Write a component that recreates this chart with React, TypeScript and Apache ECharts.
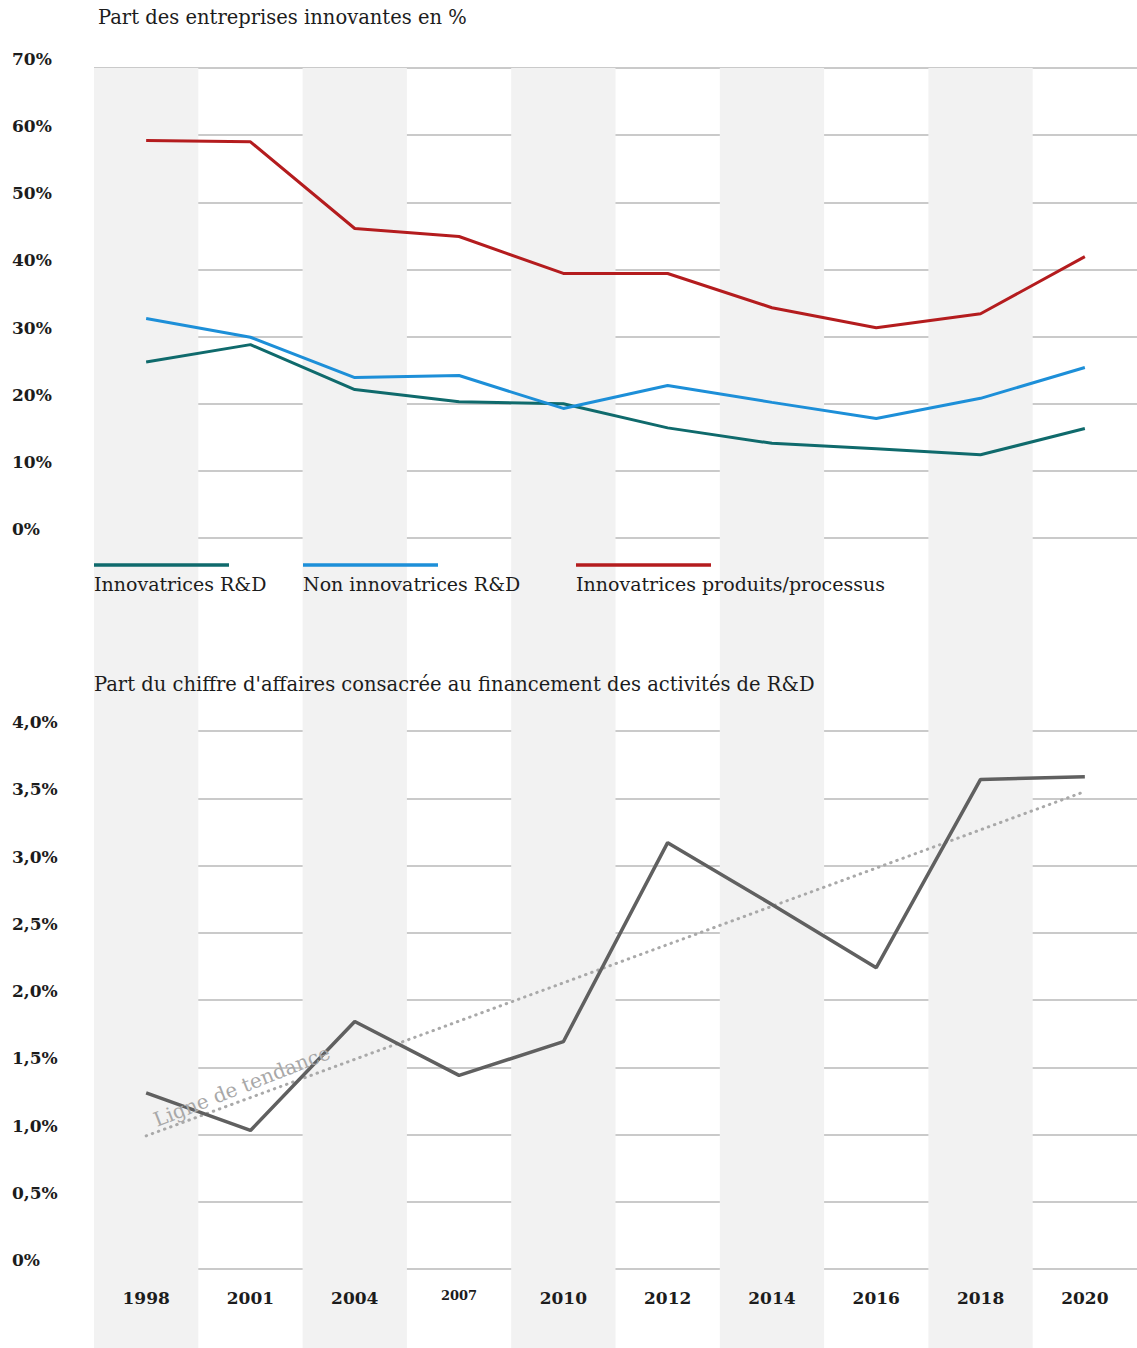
import React, { useEffect, useRef } from "react";
import * as echarts from "echarts";

const years = ["1998", "2001", "2004", "2007", "2010", "2012", "2014", "2016", "2018", "2020"];
const innovatricesRD = [26.2, 28.8, 22.1, 20.3, 20.0, 16.4, 14.1, 13.3, 12.4, 16.3];
const nonInnovatricesRD = [32.7, 29.9, 23.9, 24.2, 19.3, 22.7, 20.2, 17.8, 20.8, 25.4];
const innovatricesProduits = [59.2, 59.0, 46.1, 44.9, 39.4, 39.4, 34.3, 31.3, 33.4, 41.9];
const partCA = [1.31, 1.03, 1.84, 1.44, 1.69, 3.17, 2.71, 2.24, 3.64, 3.66];
const trendEnds = [0.99, 3.55];
const trendData = years.map((_, i) => (i === 0 ? trendEnds[0] : i === years.length - 1 ? trendEnds[1] : null));

const legendItems = [
  { name: "Innovatrices R&D", color: "#0f6a6c" },
  { name: "Non innovatrices R&D", color: "#1d8fd8" },
  { name: "Innovatrices produits/processus", color: "#b41c1e" },
];

const SERIF = "'DejaVu Serif', 'Liberation Serif', serif";
const TXT = "#1c1c1c";

export default function App() {
  const ref = useRef<HTMLDivElement>(null);
  useEffect(() => {
    if (!ref.current) return;
    const chart = echarts.init(ref.current, null, { renderer: "svg" });
    const L = 94;
    const W = 1045;
    const gridLine = { show: true, lineStyle: { color: "#b9b9b9", width: 1.5 } };
    const yLabel = {
      color: TXT,
      fontFamily: SERIF,
      fontWeight: "bold" as const,
      fontSize: 17,
      align: "left" as const,
      verticalAlign: "bottom" as const,
      margin: 82,
      lineHeight: 18,
    };
    const legendX = [94, 303, 576];
    const graphics: any[] = [];
    legendItems.forEach((it, i) => {
      graphics.push({
        type: "line",
        z: 100,
        shape: { x1: legendX[i], y1: 565, x2: legendX[i] + 135, y2: 565 },
        style: { stroke: it.color, lineWidth: 3.5 },
      });
      graphics.push({
        type: "text",
        z: 100,
        x: legendX[i],
        y: 584,
        style: {
          text: it.name,
          fill: TXT,
          font: `19px ${SERIF}`,
          textAlign: "left",
          textVerticalAlign: "middle",
        },
      });
    });

    chart.setOption({
      animation: false,
      backgroundColor: "#ffffff",
      title: [
        {
          text: "Part des entreprises innovantes en %",
          left: 98,
          top: 7,
          padding: 0,
          textStyle: { color: TXT, fontFamily: SERIF, fontWeight: "normal", fontSize: 19.5 },
        },
        {
          text: "Part du chiffre d'affaires consacrée au financement des activités de R&D",
          left: 94,
          top: 674,
          padding: 0,
          textStyle: { color: TXT, fontFamily: SERIF, fontWeight: "normal", fontSize: 19.5 },
        },
      ],
      grid: [
        { left: L, width: W, top: 68, bottom: 0, containLabel: false },
        { left: L, width: W, top: 68, height: 470, containLabel: false },
        { left: L, width: W, top: 731, height: 538, containLabel: false },
      ],
      xAxis: [
        {
          type: "category",
          gridIndex: 0,
          data: years,
          boundaryGap: true,
          axisLine: { show: false },
          axisTick: { show: false },
          axisLabel: { show: false },
          splitLine: { show: false },
          splitArea: { show: true, interval: 0, areaStyle: { color: ["#f2f2f2", "rgba(255,255,255,0)"] } },
        },
        {
          type: "category",
          gridIndex: 1,
          data: years,
          boundaryGap: true,
          axisLine: { show: false },
          axisTick: { show: false },
          axisLabel: { show: false },
          splitLine: { show: false },
        },
        {
          type: "category",
          gridIndex: 2,
          data: years,
          boundaryGap: true,
          axisLine: { show: false },
          axisTick: { show: false },
          splitLine: { show: false },
          axisLabel: {
            interval: 0,
            color: TXT,
            fontFamily: SERIF,
            fontWeight: "bold",
            fontSize: 17,
            margin: 20,
            formatter: (v: string) => (v === "2007" ? "{s|" + v + "}" : v),
            rich: {
              s: { fontFamily: SERIF, fontWeight: "bold", fontSize: 13, color: TXT, padding: [0, 0, 6, 0] },
            },
          },
        },
      ],
      yAxis: [
        { type: "value", gridIndex: 0, show: false, min: 0, max: 1 },
        {
          type: "value",
          gridIndex: 1,
          min: 0,
          max: 70,
          interval: 10,
          axisLine: { show: false },
          axisTick: { show: false },
          splitLine: gridLine,
          axisLabel: { ...yLabel, formatter: "{value}%" },
        },
        {
          type: "value",
          gridIndex: 2,
          min: 0,
          max: 4,
          interval: 0.5,
          axisLine: { show: false },
          axisTick: { show: false },
          splitLine: gridLine,
          axisLabel: {
            ...yLabel,
            formatter: (v: number) => (v === 0 ? "0%" : v.toFixed(1).replace(".", ",") + "%"),
          },
        },
      ],
      series: [
        {
          name: "Innovatrices R&D",
          type: "line",
          xAxisIndex: 1,
          yAxisIndex: 1,
          data: innovatricesRD,
          showSymbol: false,
          lineStyle: { color: legendItems[0].color, width: 3 },
        },
        {
          name: "Non innovatrices R&D",
          type: "line",
          xAxisIndex: 1,
          yAxisIndex: 1,
          data: nonInnovatricesRD,
          showSymbol: false,
          lineStyle: { color: legendItems[1].color, width: 3 },
        },
        {
          name: "Innovatrices produits/processus",
          type: "line",
          xAxisIndex: 1,
          yAxisIndex: 1,
          data: innovatricesProduits,
          showSymbol: false,
          lineStyle: { color: legendItems[2].color, width: 3 },
        },
        {
          name: "Ligne de tendance",
          type: "line",
          xAxisIndex: 2,
          yAxisIndex: 2,
          data: trendData,
          connectNulls: true,
          showSymbol: false,
          lineStyle: { color: "#a9a9a9", width: 3, type: [0.5, 6], cap: "round" },
        },
        {
          name: "Part du chiffre d'affaires",
          type: "line",
          xAxisIndex: 2,
          yAxisIndex: 2,
          data: partCA,
          showSymbol: false,
          lineStyle: { color: "#606060", width: 3.5 },
        },
      ],
      graphic: graphics,
    });

    const p = chart.convertToPixel({ xAxisIndex: 2, yAxisIndex: 2 }, [years[0], trendEnds[0]]) as number[];
    chart.setOption({
      graphic: [
        ...graphics,
        {
          type: "text",
          x: p[0] + 12,
          y: p[1] - 6,
          rotation: (21.5 * Math.PI) / 180,
          z: 100,
          style: {
            text: "Ligne de tendance",
            fill: "#a8a8a8",
            font: `20px ${SERIF}`,
            textAlign: "left",
            textVerticalAlign: "bottom",
          },
        },
      ],
    });

    return () => chart.dispose();
  }, []);
  return (
    <div
      ref={ref}
      style={{ position: "absolute", left: 0, top: 0, width: 1137, height: 1348 }}
    />
  );
}
